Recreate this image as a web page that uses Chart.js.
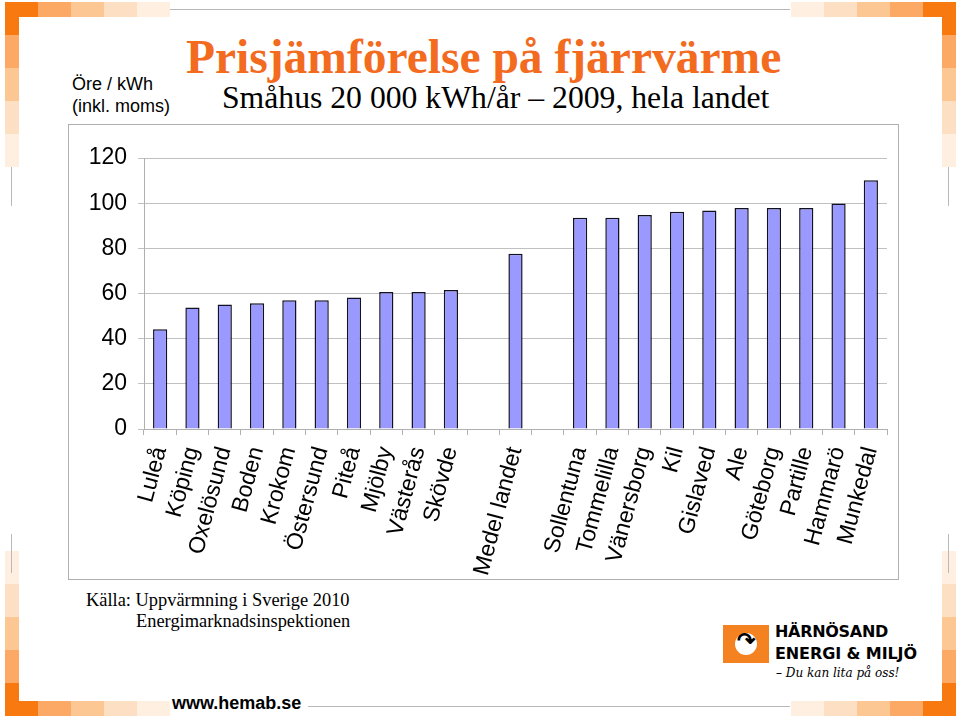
<!DOCTYPE html>
<html>
<head>
<meta charset="utf-8">
<script src="https://cdn.jsdelivr.net/npm/chart.js@4"></script>
<style>
  body { margin: 0; background: #fff; }
  #slide { position: relative; width: 960px; height: 716px; overflow: hidden; background: #fff; font-family: "Liberation Sans", Arial, sans-serif; }
  .sq { position: absolute; }
  .gl { position: absolute; background: #b8b8b8; }
  .txt { position: absolute; white-space: nowrap; }
  #frame { position: absolute; left: 68px; top: 124px; width: 829px; height: 454px; border: 1px solid #b0b0b0; }
  #chartBox { position: absolute; left: 0; top: 0; width: 829px; height: 454px; }
</style>
</head>
<body>
<div id="slide">
  <div id="deco"></div>

  <div class="txt" style="left:186px; top:30px; font-family:'Liberation Serif',serif; font-weight:bold; font-size:47.5px; color:#F26B1F;">Prisjämförelse på fjärrvärme</div>
  <div class="txt" style="left:222px; top:80px; font-family:'Liberation Serif',serif; font-size:31.7px; color:#000;">Småhus 20 000 kWh/år – 2009, hela landet</div>

  <div class="txt" style="left:72px; top:73px; font-size:18px; line-height:22px; color:#000;">Öre / kWh<br>(inkl. moms)</div>

  <div id="frame">
    <div id="chartBox"><canvas id="prisChart"></canvas></div>
  </div>

  <div class="txt" style="left:86px; top:590px; font-family:'Liberation Serif',serif; font-size:18.4px; line-height:21px; color:#000;">Källa: Uppvärmning i Sverige 2010<br><span style="padding-left:50px">Energimarknadsinspektionen</span></div>

  <div class="txt" style="left:172px; top:693px; font-family:'Liberation Sans',sans-serif; font-weight:bold; font-size:18px; color:#000;">www.hemab.se</div>

  <!-- logga -->
  <div class="sq" style="left:723px; top:625px; width:46px; height:38px; background:#F58220;"></div>
  <div class="sq" style="left:735px; top:633px; width:22px; height:22px; border-radius:50%; background:#fff;"></div>
  <div class="txt" style="left:737px; top:628px; font-size:22px; font-weight:bold; color:#000;">↷</div>
  <div class="txt" style="left:775px; top:622px; font-family:'DejaVu Sans',sans-serif; font-weight:bold; font-size:16px; color:#000; letter-spacing:-0.3px;">HÄRNÖSAND</div>
  <div class="txt" style="left:775px; top:644px; font-family:'DejaVu Sans',sans-serif; font-weight:bold; font-size:16px; color:#000; letter-spacing:-0.1px;">ENERGI &amp; MILJÖ</div>
  <div class="txt" style="left:776px; top:666px; font-family:'DejaVu Serif',serif; font-style:italic; font-size:12px; color:#000;">– Du kan lita på oss!</div>
</div>

<script>
// Data
const kommuner = ['Luleå', 'Köping', 'Oxelösund', 'Boden', 'Krokom', 'Östersund', 'Piteå', 'Mjölby', 'Västerås', 'Skövde',
  '', 'Medel landet', '',
  'Sollentuna', 'Tommelilla', 'Vänersborg', 'Kil', 'Gislaved', 'Ale', 'Göteborg', 'Partille', 'Hammarö', 'Munkedal'];
const prisOre = [44.2, 53.8, 55.1, 55.7, 57.0, 57.0, 58.2, 60.7, 60.7, 61.6,
  null, 77.6, null,
  93.5, 93.5, 94.8, 96.2, 96.7, 97.9, 97.9, 97.9, 99.8, 110.1];
const yTicks = [0, 20, 40, 60, 80, 100, 120];

// Dekor: orange rutor i hörnen
const deco = document.getElementById('deco');
const shades = ['#F7790F', '#FBA965', '#FCC793', '#FDE0C3', '#FEEFE1'];
function sq(x, y, w, h, c) {
  const d = document.createElement('div');
  d.className = 'sq';
  d.style.cssText = `left:${x}px;top:${y}px;width:${w}px;height:${h}px;background:${c}`;
  deco.appendChild(d);
}
function line(x, y, w, h) {
  const d = document.createElement('div');
  d.className = 'gl';
  d.style.cssText = `left:${x}px;top:${y}px;width:${w}px;height:${h}px`;
  deco.appendChild(d);
}
for (let i = 0; i < 5; i++) {
  // top-left
  sq(5 + i * 33, 2, 33, 15, shades[i]);
  sq(5, 2 + i * 33, 14, 33, shades[i]);
  // top-right
  sq(923 - i * 33, 2, 33, 15, shades[i]);
  sq(942, 2 + i * 33, 14, 33, shades[i]);
  // bottom-left
  sq(5 + i * 33, 701, 33, 15, shades[i]);
  sq(5, 683 - i * 33, 14, 33, shades[i]);
  // bottom-right
  sq(923 - i * 33, 701, 33, 15, shades[i]);
  sq(942, 683 - i * 33, 14, 33, shades[i]);
}
line(170, 9, 620, 1);
line(308, 706, 482, 1);
line(11, 167, 1, 39);
line(11, 534, 1, 39);
line(948, 167, 1, 39);
line(948, 534, 1, 39);

// Diagram
const ctx = document.getElementById('prisChart').getContext('2d');
new Chart(ctx, {
  type: 'bar',
  data: {
    labels: kommuner,
    datasets: [{
      data: prisOre,
      backgroundColor: '#9999FF',
      borderColor: '#111122',
      borderWidth: 1.5,
      barPercentage: 0.44,
      categoryPercentage: 1.0,
    }],
  },
  options: {
    responsive: true,
    maintainAspectRatio: false,
    animation: false,
    layout: { padding: { top: 33, right: 11, left: 0, bottom: 0 } },
    plugins: { legend: { display: false }, tooltip: { enabled: false } },
    scales: {
      y: {
        min: 0,
        max: 120,
        afterBuildTicks: (s) => { s.ticks = yTicks.map(v => ({ value: v })); },
        afterFit: (s) => { s.width = 75; },
        ticks: { color: '#000', padding: 11, font: { family: '"Liberation Sans", Arial', size: 23 } },
        grid: { color: '#c0c0c0', tickLength: 6, lineWidth: 1 },
        border: { color: '#b0b0b0' },
      },
      x: {
        afterFit: (s) => { s.height = 150; s.paddingRight = 0; s.paddingLeft = 0; },
        ticks: {
          color: '#000',
          autoSkip: false,
          minRotation: 75,
          maxRotation: 75,
          padding: 9,
          font: { family: '"Liberation Sans", Arial', size: 23 },
        },
        grid: { drawOnChartArea: false, color: '#b0b0b0', tickLength: 6, offset: true },
        border: { color: '#b0b0b0' },
      },
    },
  },
});
</script>
</body>
</html>
